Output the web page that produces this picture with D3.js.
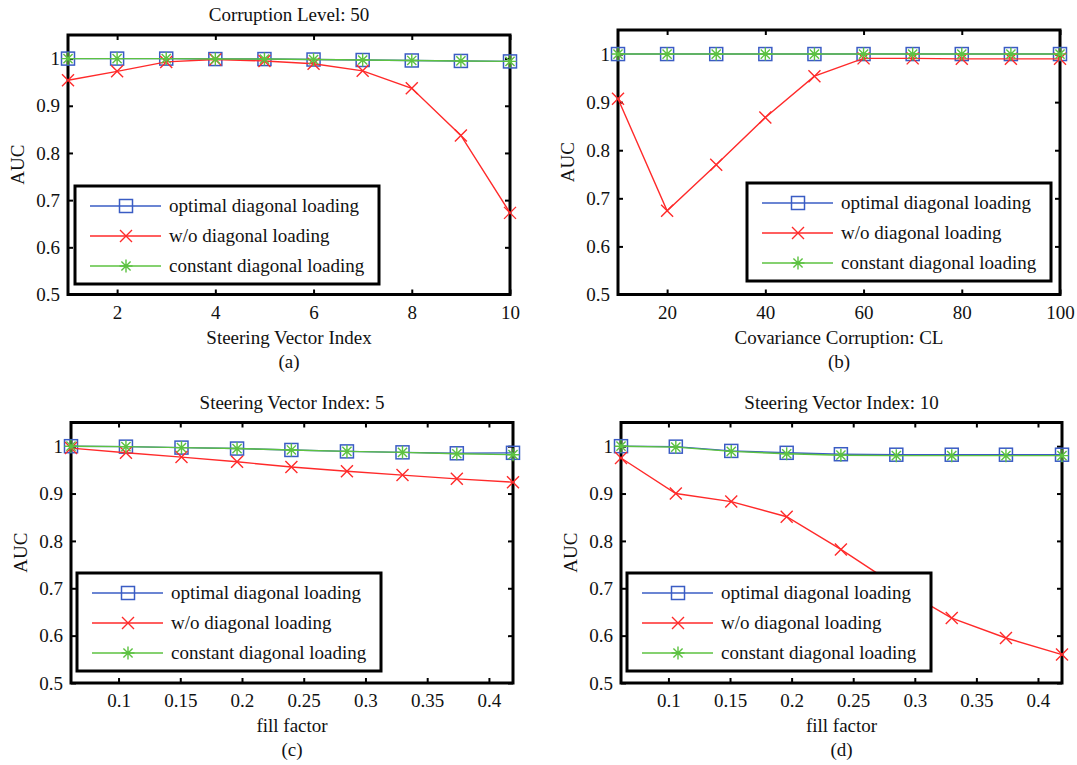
<!DOCTYPE html>
<html>
<head>
<meta charset="utf-8">
<script src="https://cdn.jsdelivr.net/npm/d3@7"></script>
<style>
  body { margin: 0; background: #fff; }
  svg { display: block; }
  text { font-family: "Liberation Serif", "Times New Roman", Times, serif; fill: #111; }
</style>
</head>
<body>
<svg id="fig" width="1077" height="765"></svg>
<script>
// ---- data ----
var seriesNames = ['optimal diagonal loading', 'w/o diagonal loading', 'constant diagonal loading'];

// (a) Corruption Level: 50
var steerIdx = [1, 2, 3, 4, 5, 6, 7, 8, 9, 10];
var aOptimal  = [1.000, 1.000, 1.000, 0.999, 0.999, 0.998, 0.997, 0.996, 0.995, 0.994];
var aWithout  = [0.954, 0.973, 0.993, 0.998, 0.995, 0.989, 0.974, 0.937, 0.837, 0.673];
var aConstant = [1.000, 1.000, 1.000, 0.999, 0.999, 0.998, 0.997, 0.996, 0.995, 0.994];

// (b) Covariance corruption
var corrLevel = [10, 20, 30, 40, 50, 60, 70, 80, 90, 100];
var bOptimal  = [1, 1, 1, 1, 1, 1, 1, 1, 1, 1];
var bWithout  = [0.907, 0.674, 0.770, 0.868, 0.954, 0.991, 0.991, 0.990, 0.990, 0.990];
var bConstant = [1, 1, 1, 1, 1, 1, 1, 1, 1, 1];

// (c), (d) fill factor
var fillFactor = [0.0615, 0.106, 0.151, 0.196, 0.240, 0.285, 0.330, 0.374, 0.4195];
var cOptimal  = [1.000, 0.999, 0.997, 0.995, 0.992, 0.989, 0.987, 0.985, 0.986];
var cWithout  = [0.996, 0.986, 0.977, 0.967, 0.956, 0.947, 0.939, 0.931, 0.924];
var cConstant = [1.000, 0.999, 0.997, 0.995, 0.992, 0.989, 0.987, 0.984, 0.982];

var dOptimal  = [1.000, 0.999, 0.990, 0.986, 0.983, 0.982, 0.982, 0.982, 0.982];
var dWithout  = [0.975, 0.900, 0.883, 0.851, 0.782, 0.705, 0.637, 0.595, 0.560];
var dConstant = [1.000, 0.998, 0.989, 0.984, 0.981, 0.980, 0.980, 0.980, 0.980];

var yTicks = [0.5, 0.6, 0.7, 0.8, 0.9, 1];
var aTicks = [2, 4, 6, 8, 10];
var bTicks = [20, 40, 60, 80, 100];
var fillTicks = [0.1, 0.15, 0.2, 0.25, 0.3, 0.35, 0.4];

var colors = ['#3a5cc4', '#ff2a2a', '#5cc241'];
var FONT = '"Liberation Serif", "Times New Roman", Times, serif';

var svg = d3.select('#fig');

var panels = [
  { box: [68, 35, 510, 294.5], x: steerIdx, ys: [aOptimal, aWithout, aConstant], xTicks: aTicks,
    title: 'Corruption Level: 50', xLabel: 'Steering Vector Index', tag: '(a)',
    legend: [75, 186], yLabelX: 17 },
  { box: [618, 30, 1060, 294.5], x: corrLevel, ys: [bOptimal, bWithout, bConstant], xTicks: bTicks,
    title: null, xLabel: 'Covariance Corruption: CL', tag: '(b)',
    legend: [747, 183], yLabelX: 567 },
  { box: [71, 422.5, 513, 683], x: fillFactor, ys: [cOptimal, cWithout, cConstant], xTicks: fillTicks,
    title: 'Steering Vector Index: 5', xLabel: 'fill factor', tag: '(c)',
    legend: [77, 573], yLabelX: 20 },
  { box: [621, 422.5, 1062, 683], x: fillFactor, ys: [dOptimal, dWithout, dConstant], xTicks: fillTicks,
    title: 'Steering Vector Index: 10', xLabel: 'fill factor', tag: '(d)',
    legend: [627, 573], yLabelX: 570 }
];

panels.forEach(drawPanel);

function drawPanel(p) {
  var x0 = p.box[0], y0 = p.box[1], x1 = p.box[2], y1 = p.box[3];
  var xScale = d3.scaleLinear().domain(d3.extent(p.x)).range([x0, x1]);
  var yScale = d3.scaleLinear().domain([0.5, 1.05]).range([y1, y0]);
  var g = svg.append('g');
  var fmt = function(d) { return String(+d.toFixed(2)); };

  // axes: labelled bottom/left, tick-only top/right, ticks point inward
  g.append('g').attr('transform', 'translate(0,' + y1 + ')')
    .call(d3.axisBottom(xScale).tickValues(p.xTicks).tickSize(-5).tickPadding(11).tickFormat(fmt));
  g.append('g').attr('transform', 'translate(0,' + y0 + ')')
    .call(d3.axisTop(xScale).tickValues(p.xTicks).tickSize(-5).tickFormat(''));
  g.append('g').attr('transform', 'translate(' + x0 + ',0)')
    .call(d3.axisLeft(yScale).tickValues(yTicks).tickSize(-5).tickPadding(8).tickFormat(fmt));
  g.append('g').attr('transform', 'translate(' + x1 + ',0)')
    .call(d3.axisRight(yScale).tickValues(yTicks).tickSize(-5).tickFormat(''));
  g.selectAll('.domain').remove();
  g.selectAll('.tick line').attr('stroke', '#000').attr('stroke-width', 2);
  g.selectAll('.tick text').attr('font-size', 19).attr('font-family', FONT).attr('fill', '#111');

  g.append('rect')
    .attr('x', x0).attr('y', y0).attr('width', x1 - x0).attr('height', y1 - y0)
    .attr('fill', 'none').attr('stroke', '#000').attr('stroke-width', 3);

  // series
  var line = d3.line().x(function(d) { return xScale(d[0]); }).y(function(d) { return yScale(d[1]); });
  p.ys.forEach(function(vals, i) {
    var pts = p.x.map(function(xv, k) { return [xv, vals[k]]; });
    g.append('path').datum(pts)
      .attr('d', line).attr('fill', 'none').attr('stroke', colors[i]).attr('stroke-width', 1.4);
    pts.forEach(function(d) { marker(g, i, xScale(d[0]), yScale(d[1])); });
  });

  // legend
  var lx = p.legend[0], ly = p.legend[1];
  var lg = g.append('g').attr('transform', 'translate(' + lx + ',' + ly + ')');
  lg.append('rect').attr('width', 304).attr('height', 98)
    .attr('fill', '#fff').attr('stroke', '#000').attr('stroke-width', 3);
  seriesNames.forEach(function(name, i) {
    var ry = 20 + i * 30;
    lg.append('line').attr('x1', 15).attr('x2', 86).attr('y1', ry).attr('y2', ry)
      .attr('stroke', colors[i]).attr('stroke-width', 1.4);
    marker(lg, i, 51, ry);
    lg.append('text').attr('x', 94).attr('y', ry + 6).attr('font-size', 19).text(name);
  });

  // labels
  if (p.title) {
    g.append('text').attr('x', (x0 + x1) / 2).attr('y', y0 - 14)
      .attr('text-anchor', 'middle').attr('font-size', 19).text(p.title);
  }
  g.append('text').attr('x', (x0 + x1) / 2).attr('y', y1 + 49)
    .attr('text-anchor', 'middle').attr('font-size', 19).text(p.xLabel);
  g.append('text').attr('x', (x0 + x1) / 2).attr('y', y1 + 73)
    .attr('text-anchor', 'middle').attr('font-size', 19).text(p.tag);
  g.append('text')
    .attr('transform', 'translate(' + (p.yLabelX + 7) + ',' + ((y0 + y1) / 2) + ') rotate(-90)')
    .attr('text-anchor', 'middle').attr('font-size', 19).text('AUC');
}

function marker(g, i, cx, cy) {
  var c = colors[i];
  if (i === 0) {
    g.append('rect').attr('x', cx - 6.5).attr('y', cy - 6.5).attr('width', 13).attr('height', 13)
      .attr('fill', 'none').attr('stroke', c).attr('stroke-width', 1.5);
  } else if (i === 1) {
    var r = 6;
    g.append('path').attr('d', 'M' + (cx - r) + ',' + (cy - r) + 'L' + (cx + r) + ',' + (cy + r) +
      'M' + (cx - r) + ',' + (cy + r) + 'L' + (cx + r) + ',' + (cy - r))
      .attr('stroke', c).attr('stroke-width', 1.4);
  } else {
    var s = 6.5, t = 4.6;
    g.append('path').attr('d', 'M' + cx + ',' + (cy - s) + 'L' + cx + ',' + (cy + s) +
      'M' + (cx - s) + ',' + cy + 'L' + (cx + s) + ',' + cy +
      'M' + (cx - t) + ',' + (cy - t) + 'L' + (cx + t) + ',' + (cy + t) +
      'M' + (cx - t) + ',' + (cy + t) + 'L' + (cx + t) + ',' + (cy - t))
      .attr('stroke', c).attr('stroke-width', 1.4);
  }
}
</script>
</body>
</html>
